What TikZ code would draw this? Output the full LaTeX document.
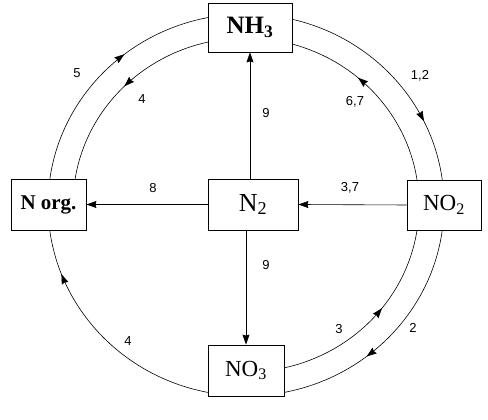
\documentclass[tikz,border=0pt]{standalone}
\usepackage{fontspec}
\setmainfont{Liberation Serif}
\newfontfamily\numfont{Liberation Sans}
\usetikzlibrary{arrows.meta,decorations.markings}

\tikzset{
  arr/.style={-{Stealth[length=10pt,width=7pt,inset=1pt]}},
  flow/.style={decoration={markings, mark=at position #1 with {\arrow{Stealth[length=10pt,width=7pt,inset=1pt]}}}, postaction={decorate}},
  box/.style={draw, fill=white, line width=0.8pt, inner sep=0pt},
  num/.style={font=\numfont\fontsize{13}{15}\selectfont},
}

\begin{document}
\begin{tikzpicture}[x=1pt, y=1pt, line width=0.6pt]
\useasboundingbox (0,0) rectangle (488,420);

% Centre of the cycle
\coordinate (c) at (246,215);

% Outer ring
\draw[flow=0.61] ([shift={(174:198 and 191)}]c) arc[start angle=174, end angle=99, x radius=198, y radius=191];
\draw[flow=0.72] ([shift={(79:198 and 191)}]c) arc[start angle=79, end angle=5, x radius=198, y radius=191];
\draw[flow=0.62] ([shift={(-5:198 and 191)}]c) arc[start angle=-5, end angle=-81, x radius=198, y radius=191];
\draw[flow=0.79] ([shift={(-99:198 and 191)}]c) arc[start angle=-99, end angle=-175, x radius=198, y radius=191];

% Inner ring
\draw[flow=0.48] ([shift={(100:173 and 167)}]c) arc[start angle=100, end angle=173, x radius=173, y radius=167];
\draw[flow=0.61] ([shift={(6:173 and 167)}]c) arc[start angle=6, end angle=77, x radius=173, y radius=167];
\draw[flow=0.57] ([shift={(-80:173 and 167)}]c) arc[start angle=-80, end angle=-6, x radius=173, y radius=167];

% Compounds
\node[box, minimum width=84pt, minimum height=49pt, font=\fontsize{25}{30}\selectfont\bfseries] (nh3) at (250,392.5) {NH\textsubscript{3}};
\node[box, minimum width=90pt, minimum height=51pt, font=\fontsize{26}{30}\selectfont] (n2) at (253,215.5) {N\textsubscript{2}};
\node[box, minimum width=75pt, minimum height=51pt, font=\fontsize{21}{25}\selectfont\bfseries] (norg) at (48.5,215.5) {N org.};
\node[box, minimum width=74pt, minimum height=50pt, font=\fontsize{23}{27}\selectfont] (no2) at (444,215) {NO\textsubscript{2}};
\node[box, minimum width=76pt, minimum height=51pt, font=\fontsize{23}{27}\selectfont] (no3) at (246,49.5) {NO\textsubscript{3}};

% Straight paths out of and into N2
\draw[arr] (n2.north -| nh3) -- (nh3.south);
\draw[arr] (n2.south -| no3) -- (no3.north);
\draw[arr] (n2.west) -- (norg.east);
\draw[arr] (no2.west) -- (n2.east);

% Process numbers
\node[num] (p5) at (77,347) {5};
\node[num] (p4a) at (142,321) {4};
\node[num] (p12) at (420,344) {1,2};
\node[num] (p67) at (355,318) {6,7};
\node[num] (p9a) at (266,307) {9};
\node[num] (p8) at (153,232) {8};
\node[num] (p37) at (350,232) {3,7};
\node[num] (p9b) at (266,155) {9};
\node[num] (p3) at (339,91) {3};
\node[num] (p2) at (413,92) {2};
\node[num] (p4b) at (128,79) {4};
\end{tikzpicture}
\end{document}
